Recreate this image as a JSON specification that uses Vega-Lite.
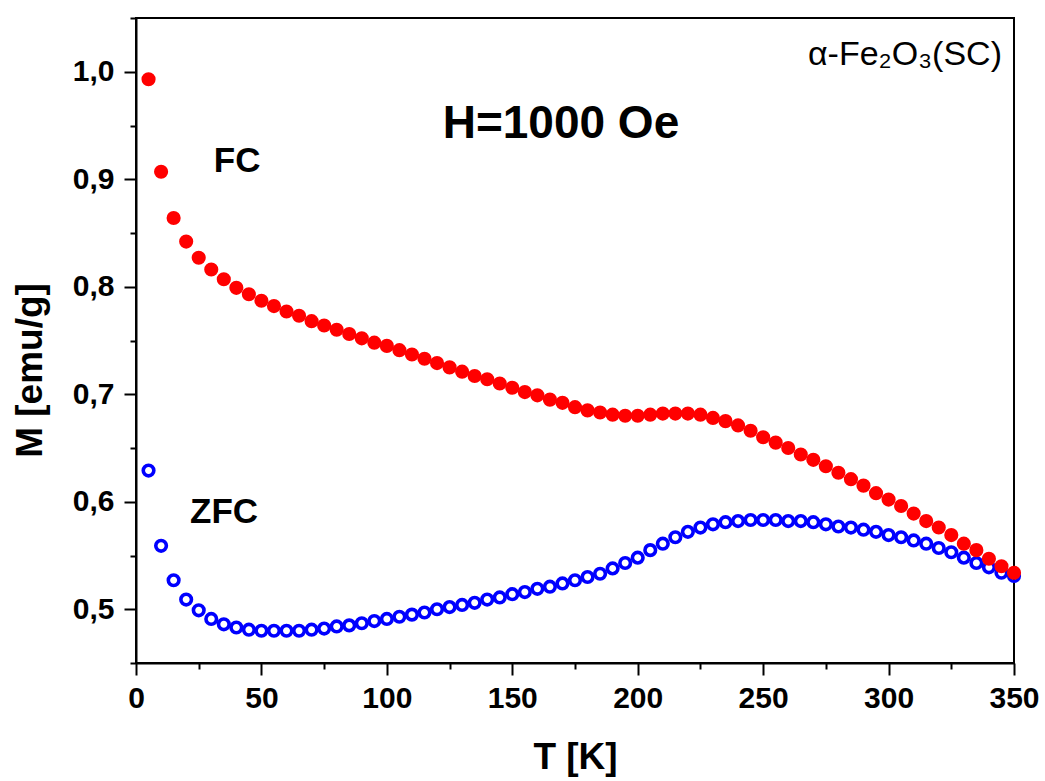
{
  "$schema": "https://vega.github.io/schema/vega-lite/v6.json",
  "width": 878,
  "height": 645,
  "autosize": {"type": "none"},
  "padding": {"left": 136, "top": 18, "right": 31, "bottom": 118},
  "background": "white",
  "config": {"view": {"stroke": "black", "strokeWidth": 2}, "font": "Liberation Sans"},
  "datasets": {
    "fc": [
      {"T":5,"M":0.993},{"T":10,"M":0.907},{"T":15,"M":0.864},{"T":20,"M":0.842},{"T":25,"M":0.827},
      {"T":30,"M":0.816},{"T":35,"M":0.807},{"T":40,"M":0.799},{"T":45,"M":0.793},{"T":50,"M":0.787},
      {"T":55,"M":0.782},{"T":60,"M":0.777},{"T":65,"M":0.773},{"T":70,"M":0.768},{"T":75,"M":0.764},
      {"T":80,"M":0.760},{"T":85,"M":0.756},{"T":90,"M":0.752},{"T":95,"M":0.748},{"T":100,"M":0.745},
      {"T":105,"M":0.741},{"T":110,"M":0.737},{"T":115,"M":0.733},{"T":120,"M":0.729},{"T":125,"M":0.725},
      {"T":130,"M":0.721},{"T":135,"M":0.717},{"T":140,"M":0.714},{"T":145,"M":0.710},{"T":150,"M":0.706},
      {"T":155,"M":0.702},{"T":160,"M":0.699},{"T":165,"M":0.695},{"T":170,"M":0.692},{"T":175,"M":0.688},
      {"T":180,"M":0.685},{"T":185,"M":0.683},{"T":190,"M":0.681},{"T":195,"M":0.680},{"T":200,"M":0.680},
      {"T":205,"M":0.681},{"T":210,"M":0.682},{"T":215,"M":0.682},{"T":220,"M":0.682},{"T":225,"M":0.681},
      {"T":230,"M":0.678},{"T":235,"M":0.675},{"T":240,"M":0.671},{"T":245,"M":0.666},{"T":250,"M":0.660},
      {"T":255,"M":0.655},{"T":260,"M":0.650},{"T":265,"M":0.644},{"T":270,"M":0.639},{"T":275,"M":0.633},
      {"T":280,"M":0.627},{"T":285,"M":0.621},{"T":290,"M":0.615},{"T":295,"M":0.608},{"T":300,"M":0.602},
      {"T":305,"M":0.596},{"T":310,"M":0.589},{"T":315,"M":0.582},{"T":320,"M":0.576},{"T":325,"M":0.569},
      {"T":330,"M":0.561},{"T":335,"M":0.555},{"T":340,"M":0.547},{"T":345,"M":0.540},{"T":350,"M":0.534}
    ],
    "zfc": [
      {"T":5,"M":0.629},{"T":10,"M":0.559},{"T":15,"M":0.527},{"T":20,"M":0.509},{"T":25,"M":0.499},
      {"T":30,"M":0.491},{"T":35,"M":0.486},{"T":40,"M":0.483},{"T":45,"M":0.481},{"T":50,"M":0.480},
      {"T":55,"M":0.480},{"T":60,"M":0.480},{"T":65,"M":0.480},{"T":70,"M":0.481},{"T":75,"M":0.482},
      {"T":80,"M":0.484},{"T":85,"M":0.485},{"T":90,"M":0.487},{"T":95,"M":0.489},{"T":100,"M":0.491},
      {"T":105,"M":0.493},{"T":110,"M":0.495},{"T":115,"M":0.497},{"T":120,"M":0.500},{"T":125,"M":0.502},
      {"T":130,"M":0.504},{"T":135,"M":0.506},{"T":140,"M":0.509},{"T":145,"M":0.511},{"T":150,"M":0.514},
      {"T":155,"M":0.516},{"T":160,"M":0.519},{"T":165,"M":0.521},{"T":170,"M":0.524},{"T":175,"M":0.527},
      {"T":180,"M":0.530},{"T":185,"M":0.533},{"T":190,"M":0.538},{"T":195,"M":0.543},{"T":200,"M":0.548},
      {"T":205,"M":0.555},{"T":210,"M":0.561},{"T":215,"M":0.567},{"T":220,"M":0.572},{"T":225,"M":0.576},
      {"T":230,"M":0.579},{"T":235,"M":0.581},{"T":240,"M":0.582},{"T":245,"M":0.583},{"T":250,"M":0.583},
      {"T":255,"M":0.583},{"T":260,"M":0.582},{"T":265,"M":0.582},{"T":270,"M":0.581},{"T":275,"M":0.579},
      {"T":280,"M":0.577},{"T":285,"M":0.576},{"T":290,"M":0.574},{"T":295,"M":0.572},{"T":300,"M":0.569},
      {"T":305,"M":0.567},{"T":310,"M":0.564},{"T":315,"M":0.561},{"T":320,"M":0.557},{"T":325,"M":0.553},
      {"T":330,"M":0.548},{"T":335,"M":0.543},{"T":340,"M":0.539},{"T":345,"M":0.534},{"T":350,"M":0.531}
    ]
  },
  "encoding": {
    "x": {
      "field": "T", "type": "quantitative",
      "scale": {"domain": [0, 350], "nice": false, "zero": false},
      "axis": {
        "values": [0,25,50,75,100,125,150,175,200,225,250,275,300,325,350],
        "labelExpr": "datum.value % 50 === 0 ? datum.value : ''",
        "tickSize": {"condition": {"test": "datum.value % 50 !== 0", "value": 6}, "value": 12},
        "grid": false, "domainColor": "black", "domainWidth": 2,
        "tickColor": "black", "tickWidth": 2,
        "labelFont": "Liberation Sans", "labelFontWeight": "bold", "labelFontSize": 30,
        "labelColor": "black", "labelPadding": 8, "labelFlush": false, "labelOverlap": false,
        "title": "T [K]", "titleFont": "Liberation Sans", "titleFontSize": 37, "titleFontWeight": "bold",
        "titleColor": "black", "titleY": 94, "titleBaseline": "middle"
      }
    },
    "y": {
      "field": "M", "type": "quantitative",
      "scale": {"domain": [0.45, 1.05], "nice": false, "zero": false},
      "axis": {
        "values": [0.45,0.5,0.55,0.6,0.65,0.7,0.75,0.8,0.85,0.9,0.95,1.0,1.05],
        "labelExpr": "abs(datum.value*10 - round(datum.value*10)) < 0.001 ? replace(format(datum.value, '.1f'), '.', ',') : ''",
        "tickSize": {"condition": {"test": "abs(datum.value*10 - round(datum.value*10)) > 0.001", "value": 6}, "value": 12},
        "grid": false, "domainColor": "black", "domainWidth": 2,
        "tickColor": "black", "tickWidth": 2,
        "labelFont": "Liberation Sans", "labelFontWeight": "bold", "labelFontSize": 30,
        "labelColor": "black", "labelPadding": 10, "labelFlush": false, "labelOverlap": false,
        "title": "M [emu/g]", "titleFont": "Liberation Sans", "titleFontSize": 37, "titleFontWeight": "bold",
        "titleColor": "black", "titleX": -106, "titleY": 352, "titleBaseline": "middle", "titleAngle": -90
      }
    }
  },
  "layer": [
    {
      "data": {"name": "zfc"},
      "mark": {"type": "point", "shape": "circle", "filled": false, "color": "#0000FF", "size": 112, "strokeWidth": 3.6, "opacity": 1}
    },
    {
      "data": {"name": "fc"},
      "mark": {"type": "circle", "color": "#FF0000", "size": 200, "opacity": 1}
    },
    {
      "data": {"values": [{"T": 40.3, "M": 0.917, "label": "FC"}, {"T": 35.1, "M": 0.5905, "label": "ZFC"}]},
      "mark": {"type": "text", "font": "Liberation Sans", "fontWeight": "bold", "fontSize": 35, "align": "center", "baseline": "middle", "color": "black"},
      "encoding": {"text": {"field": "label"}}
    },
    {
      "data": {"values": [{"T": 169.4, "M": 0.9514, "label": "H=1000 Oe"}]},
      "mark": {"type": "text", "font": "Liberation Sans", "fontWeight": "bold", "fontSize": 46, "align": "center", "baseline": "middle", "color": "black"},
      "encoding": {"text": {"field": "label"}}
    },
    {
      "data": {"values": [{"T": 345.2, "M": 1.0156, "label": "α-Fe₂O₃(SC)"}]},
      "mark": {"type": "text", "font": "Liberation Sans", "fontWeight": "normal", "fontSize": 34, "align": "right", "baseline": "middle", "color": "black"},
      "encoding": {"text": {"field": "label"}}
    }
  ]
}
